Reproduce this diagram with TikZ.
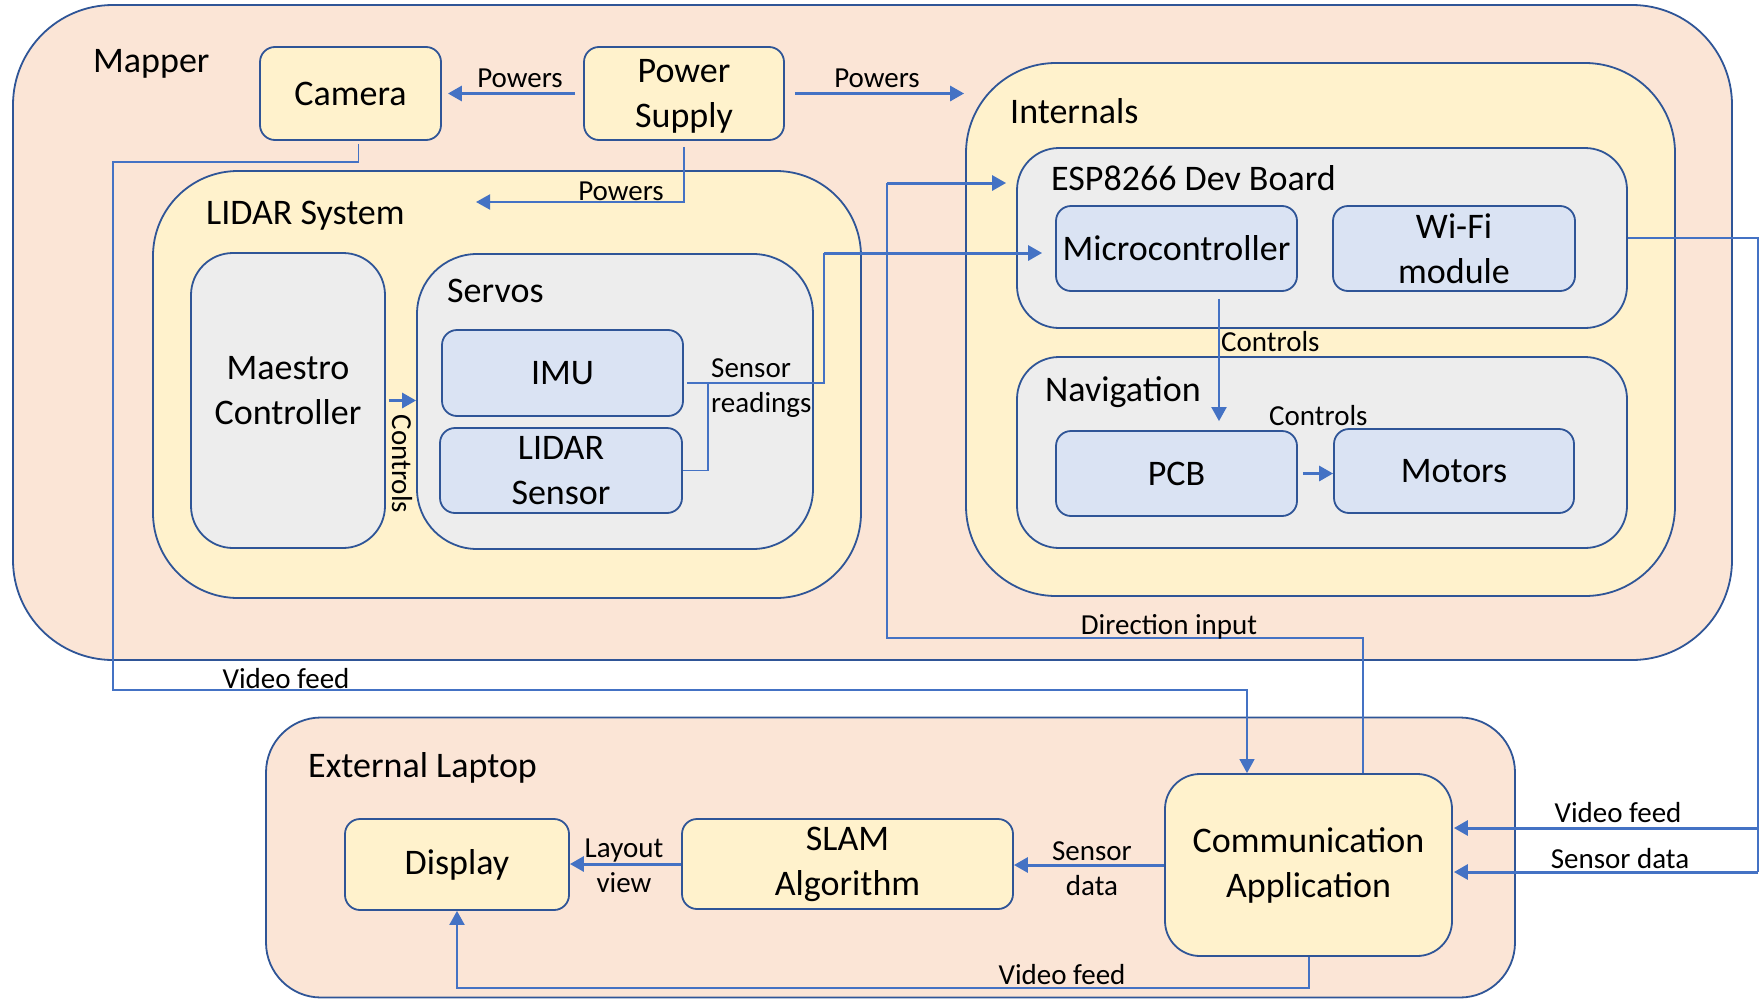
\documentclass[tikz,border=0pt]{standalone}
\usepackage{fontspec}
\setmainfont{Carlito}
\usetikzlibrary{arrows.meta}
\definecolor{salmon}{HTML}{FBE5D6}
\definecolor{cream}{HTML}{FFF2CC}
\definecolor{greybox}{HTML}{EDEDED}
\definecolor{bluebox}{HTML}{DAE3F3}
\definecolor{edge}{HTML}{2F5597}
\definecolor{wire}{HTML}{4472C4}
\tikzset{
 box/.style={draw=edge, line width=1.8pt, inner sep=0pt, align=center, font=\fontsize{36}{45}\selectfont},
 outerbox/.style={box, fill=salmon},
 yel/.style={box, fill=cream},
 gry/.style={box, fill=greybox},
 blu/.style={box, fill=bluebox},
 title/.style={anchor=base west, inner sep=0pt, font=\fontsize{36}{45}\selectfont},
 lbl/.style={inner sep=0pt, font=\fontsize{29}{35}\selectfont, align=center},
 thinwire/.style={draw=wire, line width=1.3pt},
 midwire/.style={draw=wire, line width=2pt},
 thickwire/.style={draw=wire, line width=3pt},
 arrowed/.style={-{Triangle[length=14pt,width=15pt]}},
}
\begin{document}
\begin{tikzpicture}[x=1pt,y=-1pt]
\useasboundingbox[fill=white] (0,0) rectangle (1764,1001);
% Mapper
\node[outerbox, minimum width=1719pt, minimum height=655pt, rounded corners=100pt] (mapper) at (872.5,332.5) {};
\node[title] (mappert) at (93,72) {Mapper};
\node[yel, minimum width=181pt, minimum height=93pt, rounded corners=15pt] (camera) at (350.5,93.5) {Camera};
\node[yel, minimum width=200pt, minimum height=93pt, rounded corners=15pt] (power) at (684,93.5) {};
\node[box, draw=none, anchor=base] (powert) at (684,127) {Power\\Supply};
% LIDAR system
\node[yel, minimum width=708pt, minimum height=427pt, rounded corners=85pt] (lidarsys) at (507,384.5) {};
\node[title] (lidarsyst) at (206,224) {LIDAR System};
\node[gry, minimum width=194pt, minimum height=295pt, rounded corners=42pt] (maestro) at (288,400.5) {};
\node[box, draw=none, anchor=base] (maestrot) at (288,424) {Maestro\\Controller};
\node[gry, minimum width=396pt, minimum height=295pt, rounded corners=60pt] (servos) at (615,401.5) {};
\node[title] (servost) at (447,302) {Servos};
\node[blu, minimum width=241pt, minimum height=86pt, rounded corners=15pt] (imu) at (562.5,373) {IMU};
\node[blu, minimum width=242pt, minimum height=85pt, rounded corners=15pt] (lidarsensor) at (561,470.5) {LIDAR\\Sensor};
% Internals
\node[yel, minimum width=709pt, minimum height=533pt, rounded corners=90pt] (internals) at (1320.5,329.5) {};
\node[title] (internalst) at (1010,123) {Internals};
\node[gry, minimum width=610pt, minimum height=180pt, rounded corners=42pt] (esp) at (1322,238) {};
\node[title] (espt) at (1051,190) {ESP8266 Dev Board};
\node[blu, minimum width=241pt, minimum height=85pt, rounded corners=15pt] (micro) at (1176.5,248.5) {Microcontroller};
\node[blu, minimum width=242pt, minimum height=85pt, rounded corners=15pt] (wifi) at (1454,248.5) {Wi-Fi\\module};
\node[gry, minimum width=610pt, minimum height=191pt, rounded corners=42pt] (nav) at (1322,452.5) {};
\node[title] (navt) at (1045,401) {Navigation};
\node[blu, minimum width=241pt, minimum height=85pt, rounded corners=15pt] (pcb) at (1176.5,473.5) {PCB};
\node[blu, minimum width=240pt, minimum height=84pt, rounded corners=15pt] (motors) at (1454,471) {Motors};
% External laptop
\node[outerbox, minimum width=1249pt, minimum height=280pt, rounded corners=55pt] (laptop) at (890.5,857.5) {};
\node[title] (laptopt) at (308,777) {External Laptop};
\node[yel, minimum width=224pt, minimum height=91pt, rounded corners=15pt] (display) at (457,864.5) {Display};
\node[yel, minimum width=331pt, minimum height=90pt, rounded corners=15pt] (slam) at (847.5,864) {SLAM\\Algorithm};
\node[yel, minimum width=287pt, minimum height=182pt, rounded corners=35pt] (comm) at (1308.5,865) {Communication\\Application};

% coordinates
\coordinate (pwrlidar) at (476,202);
\coordinate (camleft) at (113,162);
\coordinate (vfx) at (1247,690);
\coordinate (dix) at (1363,638);
\coordinate (dileft) at (887,183);
\coordinate (srx) at (824,383);
\coordinate (sr) at (824,253);
\coordinate (lsx) at (708,383);
\coordinate (wtop) at (1758,238);
\coordinate (wv) at (1758,828);
\coordinate (ws) at (1758,872);

% connectors
\draw[thickwire, arrowed, shorten <=8pt, shorten >=6pt] (power.west) -- (camera.east);
\draw[thickwire, arrowed, shorten <=10pt, shorten >=1pt] (power.east) -- (power.east -| internals.west);
\draw[midwire, arrowed, shorten <=6pt] (power.south) |- (pwrlidar);
\draw[thinwire, arrowed] ([xshift=8pt,yshift=-3pt]camera.south) |- (camleft) |- (vfx) -- (vfx |- comm.north);
\draw[thickwire, arrowed, shorten <=3pt] (maestro.east) -- (maestro.east -| servos.west);
\draw[thinwire] ([yshift=-10pt,xshift=3pt]imu.east) -- (srx) -- (sr);
\draw[thinwire] (lidarsensor.east) -| (lsx);
\draw[thickwire, arrowed, shorten >=13pt] (sr) -- (sr -| micro.west);
\draw[thinwire] (dix |- comm.north) -- (dix) -| (dileft);
\draw[thickwire, arrowed, shorten >=10pt] (dileft) -- (dileft -| esp.west);
\draw[midwire, arrowed] ([xshift=42.5pt,yshift=-7pt]micro.south) -- ([xshift=42.5pt,yshift=9pt]pcb.north);
\draw[thickwire, arrowed, shorten <=5pt] (pcb.east) -- (pcb.east -| motors.west);
\draw[thinwire] (esp.east) -- (wtop) -- (ws);
\draw[thickwire, arrowed, shorten >=1pt] (wv) -- (wv -| comm.east);
\draw[thickwire, arrowed, shorten >=1pt] (ws) -- (ws -| comm.east);
\draw[thickwire, arrowed] (comm.west) -- (comm.west -| slam.east);
\draw[thickwire, arrowed] (slam.west) -- (slam.west -| display.east);
\draw[midwire, arrowed] (comm.south) -- ++(0,31) -| (display.south);

% labels
\node[lbl, anchor=base] (l1) at (520,87) {Powers};
\node[lbl, anchor=base] (l2) at (877,87) {Powers};
\node[lbl, anchor=base] (l3) at (621,200) {Powers};
\node[lbl, anchor=base west, align=left] (l4) at (711,412) {Sensor\\readings};
\node[lbl, rotate=-90] (l5) at (402,464) {Controls};
\node[lbl, anchor=base west] (l6) at (1221,351) {Controls};
\node[lbl, anchor=base west] (l7) at (1269,425) {Controls};
\node[lbl, anchor=base] (l8) at (1169,634) {Direction input};
\node[lbl, anchor=base] (l9) at (286,688) {Video feed};
\node[lbl, anchor=base] (l10) at (1618,822) {Video feed};
\node[lbl, anchor=base] (l11) at (1620,868) {Sensor data};
\node[lbl, anchor=base] (l12) at (1092,895) {Sensor\\data};
\node[lbl, anchor=base] (l13) at (624,892) {Layout\\view};
\node[lbl, anchor=base] (l14) at (1062,984) {Video feed};
\end{tikzpicture}
\end{document}
